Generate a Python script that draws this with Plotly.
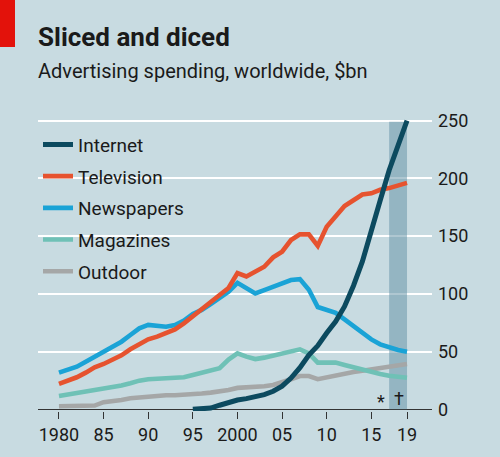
import plotly.graph_objects as go

years = list(range(1980, 2020))

internet_years = list(range(1995, 2020))
internet = [0, 0.3, 1, 3.5, 6, 8, 9.2, 10.7, 12.7, 15.6, 20, 27, 36, 47, 55,
            66, 76, 89, 107, 128, 153, 181, 207, 229, 250]

television = [22, 24.5, 27.7, 31.7, 36.3, 39.2, 42.7, 46.7, 51.9, 56.5,
              60.6, 62.9, 65.7, 69.2, 74.4, 80.7, 87.4, 93.1, 98.9, 105,
              118, 115, 119, 123.4, 131.5, 136.4, 146.5, 151.4, 151.4, 141.5,
              158, 167, 176, 181, 186, 187, 190, 191.5, 193.5, 196]

newspapers = [31.7, 34.6, 36.9, 41.2, 45.6, 49, 53.6, 58.5, 64.3, 70.1,
              73, 72.1, 71.5, 73, 76.7, 82.5, 86, 91.1, 96, 101.8,
              109.5, 104.7, 100.3, 103.2, 106, 108.6, 111.9, 112.7, 103.5, 88.5,
              86.4, 83.5, 77.8, 72, 66.2, 60.5, 56.2, 53.3, 51.3, 49.8]

magazines = [11.5, 12.7, 13.8, 15.3, 16.7, 17.9, 19, 20.5, 22.5, 24.8,
             26, 26.5, 26.8, 27.4, 27.7, 29.7, 31.7, 34, 35.5, 43,
             48.4, 45.6, 43.5, 44.7, 46.4, 49, 50.5, 51.9, 48.4, 40.4,
             40.4, 40.4, 38.4, 36.3, 34.6, 32.9, 30.6, 29.1, 28, 27.3]

outdoor = [2.6, 2.6, 2.9, 3.2, 3.2, 6.1, 6.9, 8.1, 9.5, 10.4,
           11.2, 11.8, 12.1, 12.1, 12.4, 13, 13.6, 14.4, 15.3, 16.7,
           18.5, 18.7, 19.3, 19.9, 21, 23, 26, 28.8, 28.8, 26,
           27.7, 28.8, 30.6, 32.3, 33.4, 34.6, 35.8, 36.9, 38, 39.2]

x_tickvals = [1980, 1985, 1990, 1995, 2000, 2005, 2010, 2015, 2019]
x_ticktext = ["1980", "85", "90", "95", "2000", "05", "10", "15", "19"]
y_tickvals = [0, 50, 100, 150, 200, 250]
y_ticktext = ["0", "50", "100", "150", "200", "250"]

forecast_start, forecast_end = 2017, 2019

BG = "#c8dbe1"
FONT = "Roboto"
TXT = "#1a1a1a"

series = [
    ("Internet", internet_years, internet, "#0c4a5f", 5),
    ("Television", years, television, "#e6532f", 4.6),
    ("Newspapers", years, newspapers, "#1aa3d6", 4.6),
    ("Magazines", years, magazines, "#6fc1b6", 4.6),
    ("Outdoor", years, outdoor, "#a5a7a7", 4.6),
]

fig = go.Figure()
for i, (name, xs, ys, col, w) in reversed(list(enumerate(series))):
    fig.add_trace(go.Scatter(
        x=xs, y=ys, name=name, mode="lines",
        line=dict(color=col, width=w),
        legendrank=i + 1, legendgroup=name,
        hoverinfo="skip",
    ))

fig.add_shape(type="rect", xref="x", yref="y",
              x0=forecast_start, x1=forecast_end, y0=0, y1=249,
              fillcolor="#5f8fa3", opacity=0.5, line_width=0, layer="between")

# red tag
fig.add_shape(type="rect", xref="paper", yref="paper",
              x0=-38 / 394, x1=(15 - 38) / 394, y0=1 + 109 / 302, y1=1 + (109 - 47) / 302,
              fillcolor="#e3120b", line_width=0, layer="above")

fig.add_annotation(x=0, y=1, xref="paper", yref="paper", xanchor="left", yanchor="bottom",
                   text="<b>Sliced and diced</b>", showarrow=False,
                   font=dict(family=FONT, size=26, color=TXT), xshift=-2, yshift=55)
fig.add_annotation(x=0, y=1, xref="paper", yref="paper", xanchor="left", yanchor="bottom",
                   text="Advertising spending, worldwide, $bn", showarrow=False,
                   font=dict(family=FONT, size=20, color=TXT), xshift=-2, yshift=24)

fig.add_annotation(x=2016.1, y=7, xref="x", yref="y", text="*", showarrow=False,
                   font=dict(family=FONT, size=18, color=TXT), yanchor="middle")
fig.add_annotation(x=2018.05, y=9, xref="x", yref="y", text="†", showarrow=False,
                   font=dict(family=FONT, size=18, color=TXT), yanchor="middle")

fig.update_layout(
    width=500, height=457,
    margin=dict(l=38, r=68, t=109, b=46),
    paper_bgcolor=BG, plot_bgcolor=BG,
    font=dict(family=FONT, color=TXT),
    showlegend=True,
    legend=dict(x=0, y=0.945, xanchor="left", yanchor="top",
                bgcolor="rgba(0,0,0,0)", font=dict(size=19, family=FONT, color=TXT),
                tracegroupgap=4, itemwidth=30),
    xaxis=dict(range=[1977.65, 2021.8], tickvals=x_tickvals, ticktext=x_ticktext,
               ticks="outside", ticklen=7, tickcolor="#333", tickwidth=1,
               showgrid=False, zeroline=False, showline=False,
               tickfont=dict(size=18, family=FONT, color=TXT), fixedrange=True),
    yaxis=dict(range=[-1.5, 260], side="right", tickvals=y_tickvals, ticktext=y_ticktext,
               ticks="", showgrid=True, gridcolor="white", gridwidth=2,
               zeroline=True, zerolinecolor="#333", zerolinewidth=1.2,
               showline=False, ticklabelstandoff=5,
               tickfont=dict(size=18, family=FONT, color=TXT), fixedrange=True),
)

fig.write_html("out.html", config={"displayModeBar": False},
               post_script="document.body.style.margin='0';document.body.style.background='%s';" % BG)
